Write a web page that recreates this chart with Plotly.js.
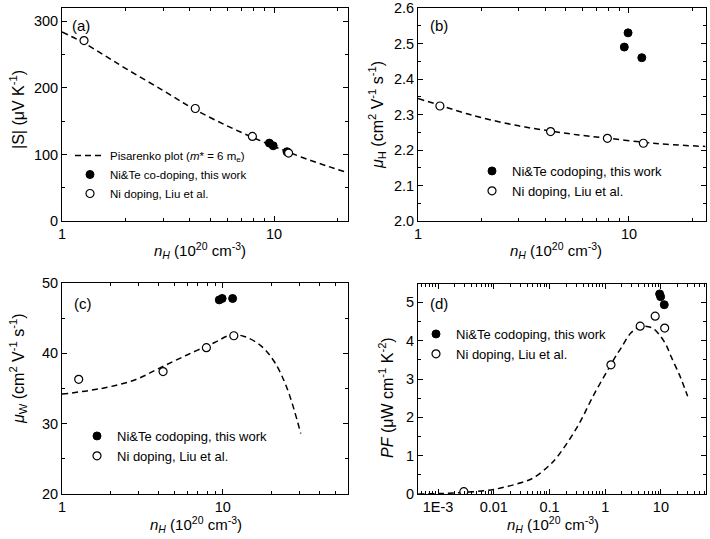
<!DOCTYPE html>
<html><head><meta charset="utf-8">
<script src="https://cdn.plot.ly/plotly-3.0.1.min.js"></script>
<style>html,body{margin:0;padding:0;background:#fff}#chart{width:710px;height:539px}</style>
</head><body><div id="chart"></div>
<script>
// ---------- data ----------
const nH_open = [1.27, 4.25, 7.9, 11.7];
const nH_filled = [9.5, 9.9, 11.5];
const nH_open_d = [0.0029, 1.27, 4.25, 7.9, 11.7];

// (a) Seebeck
const S_open = [271, 169, 127, 102];
const S_filled = [117, 113, 104];
const pis_n = [1, 1.26, 1.6, 2, 3, 4.2, 6, 8, 10, 12, 15, 18, 22];
const pis_S = [284, 268, 248, 229, 196, 168, 143, 125, 112, 102, 90.5, 82, 73];

// (b) Hall mobility
const muH_open = [2.324, 2.252, 2.233, 2.219];
const muH_filled = [2.49, 2.53, 2.46];
const muH_curve_n = [1, 1.27, 1.6, 2, 3, 4.4, 6, 8, 11.6, 15, 23];
const muH_curve = [2.345, 2.326, 2.307, 2.291, 2.268, 2.252, 2.241, 2.233, 2.222, 2.216, 2.21];

// (c) weighted mobility
const muW_open = [36.3, 37.4, 40.8, 42.5];
const muW_filled = [47.6, 47.8, 47.8];
const muW_curve_n = [1, 1.75, 2.82, 4.12, 6.03, 8.83, 11.2, 13.6, 17.2, 20.9, 25.1, 30.5];
const muW_curve = [34.2, 35.0, 36.2, 38.0, 39.8, 41.5, 42.6, 42.4, 41.1, 38.8, 35.0, 28.6];

// (d) power factor
const PF_open = [0.06, 3.37, 4.38, 4.64, 4.33];
const PF_filled = [5.22, 5.15, 4.94];
const PF_curve_n = [0.00044, 0.001, 0.0028, 0.01, 0.0316, 0.0513, 0.1, 0.138, 0.316, 0.631, 1.26, 1.55, 1.91, 2.88, 4.27, 5.62, 7.08, 9.33, 12.3, 15.1, 22.4, 30.2];
const PF_curve = [0.0, 0.01, 0.04, 0.12, 0.3, 0.42, 0.75, 0.97, 1.75, 2.6, 3.37, 3.6, 3.8, 4.2, 4.37, 4.37, 4.33, 4.16, 3.9, 3.6, 3.05, 2.55];

// tick labels
const ticksA_y = [0, 100, 200, 300];
const ticksB_y = [2.0, 2.1, 2.2, 2.3, 2.4, 2.5, 2.6];
const ticksB_ytext = ['2.0', '2.1', '2.2', '2.3', '2.4', '2.5', '2.6'];
const ticksC_y = [20, 30, 40, 50];
const ticksD_y = [0, 1, 2, 3, 4, 5];
const ticksLin_x = [1, 10];
const ticksLin_xtext = ['1', '10'];
const ticksD_x = [0.001, 0.01, 0.1, 1, 10];
const ticksD_xtext = ['1E-3', '0.01', '0.1', '1', '10'];

const legOpen = 'Ni doping, Liu et al.';
const legFilledA = 'Ni&Te co-doping, this work';
const legFilled = 'Ni&Te codoping, this work';
const legPis = 'Pisarenko plot (<i>m</i>* = 6 m<sub>e</sub>)';

// ---------- helpers ----------
const W = 710, H = 539;
const FONT = 'Liberation Sans, Arial, sans-serif';
const px = x => x / W;
const py = y => 1 - y / H;

function logMinor(dmin, dmax) {
  const v = [];
  for (let d = dmin; d <= dmax; d++) for (let k = 2; k <= 9; k++) v.push(k * Math.pow(10, d));
  return v;
}
function linMinor(a, b, step) {
  const v = [];
  for (let t = a; t <= b + 1e-9; t += step) v.push(+t.toFixed(4));
  return v;
}

const dash = {color: '#000', width: 1.5, dash: '6px,4px'};
const mFilled = {symbol: 'circle', size: 8, color: '#000', line: {color: '#000', width: 1}};
const mOpen = {symbol: 'circle', size: 8, color: '#fff', line: {color: '#000', width: 1.2}};

const traces = [
  // (a)
  {x: pis_n, y: pis_S, xaxis: 'x', yaxis: 'y', mode: 'lines', line: Object.assign({shape: 'spline'}, dash), name: legPis, legend: 'legend'},
  {x: nH_filled, y: S_filled, xaxis: 'x', yaxis: 'y', mode: 'markers', marker: mFilled, name: legFilledA, legend: 'legend'},
  {x: nH_open, y: S_open, xaxis: 'x', yaxis: 'y', mode: 'markers', marker: mOpen, name: legOpen, legend: 'legend'},
  // (b)
  {x: muH_curve_n, y: muH_curve, xaxis: 'x2', yaxis: 'y2', mode: 'lines', line: Object.assign({shape: 'spline'}, dash), showlegend: false},
  {x: nH_filled, y: muH_filled, xaxis: 'x2', yaxis: 'y2', mode: 'markers', marker: mFilled, name: legFilled, legend: 'legend2'},
  {x: nH_open, y: muH_open, xaxis: 'x2', yaxis: 'y2', mode: 'markers', marker: mOpen, name: legOpen, legend: 'legend2'},
  // (c)
  {x: muW_curve_n, y: muW_curve, xaxis: 'x3', yaxis: 'y3', mode: 'lines', line: Object.assign({shape: 'spline'}, dash), showlegend: false},
  {x: nH_filled, y: muW_filled, xaxis: 'x3', yaxis: 'y3', mode: 'markers', marker: mFilled, name: legFilled, legend: 'legend3'},
  {x: nH_open, y: muW_open, xaxis: 'x3', yaxis: 'y3', mode: 'markers', marker: mOpen, name: legOpen, legend: 'legend3'},
  // (d)
  {x: PF_curve_n, y: PF_curve, xaxis: 'x4', yaxis: 'y4', mode: 'lines', line: Object.assign({shape: 'spline'}, dash), showlegend: false},
  {x: nH_filled, y: PF_filled, xaxis: 'x4', yaxis: 'y4', mode: 'markers', marker: mFilled, name: legFilled, legend: 'legend4'},
  {x: nH_open_d, y: PF_open, xaxis: 'x4', yaxis: 'y4', mode: 'markers', marker: mOpen, name: legOpen, legend: 'legend4'}
];

function ax(extra) {
  return Object.assign({
    showline: true, linecolor: '#000', linewidth: 1, mirror: 'allticks',
    ticks: 'inside', ticklen: 5, tickwidth: 1, tickcolor: '#000',
    showgrid: false, zeroline: false, automargin: false, fixedrange: true,
    tickfont: {family: FONT, size: 14.5, color: '#000'}
  }, extra);
}
const minorStyle = {ticks: 'inside', ticklen: 3, tickwidth: 1, tickcolor: '#000', showgrid: false};

const dxL = [px(62), px(348)], dxR = [px(418), px(706)];
const dyT = [py(221), py(8)], dyB = [py(494), py(283)];

function leg(x, ytop, size) {
  return {x: px(x), y: py(ytop), xanchor: 'left', yanchor: 'top', bgcolor: 'rgba(0,0,0,0)', borderwidth: 0,
    font: {family: FONT, size: size, color: '#000'}, itemwidth: 30, tracegroupgap: 0};
}

const layout = {
  width: W, height: H, margin: {l: 0, r: 0, t: 0, b: 0},
  paper_bgcolor: '#fff', plot_bgcolor: '#fff', showlegend: true,
  font: {family: FONT, color: '#000'},
  xaxis: ax({domain: dxL, anchor: 'y', type: 'log', range: [0, Math.log10(22.3)], tickvals: ticksLin_x, ticktext: ticksLin_xtext,
    minor: Object.assign({tickvals: logMinor(0, 1)}, minorStyle)}),
  yaxis: ax({domain: dyT, anchor: 'x', range: [0, 320], tickvals: ticksA_y, minor: Object.assign({tickvals: linMinor(50, 300, 100)}, minorStyle)}),
  xaxis2: ax({domain: dxR, anchor: 'y2', type: 'log', range: [0, 1.365], tickvals: ticksLin_x, ticktext: ticksLin_xtext,
    minor: Object.assign({tickvals: logMinor(0, 1)}, minorStyle)}),
  yaxis2: ax({domain: dyT, anchor: 'x2', range: [2.0, 2.6], tickvals: ticksB_y, ticktext: ticksB_ytext, minor: Object.assign({tickvals: linMinor(2.05, 2.55, 0.1)}, minorStyle)}),
  xaxis3: ax({domain: dxL, anchor: 'y3', type: 'log', range: [0, 1.778], tickvals: ticksLin_x, ticktext: ticksLin_xtext,
    minor: Object.assign({tickvals: logMinor(0, 1)}, minorStyle)}),
  yaxis3: ax({domain: dyB, anchor: 'x3', range: [20, 50], tickvals: ticksC_y, minor: Object.assign({tickvals: linMinor(25, 45, 10)}, minorStyle)}),
  xaxis4: ax({domain: dxR, anchor: 'y4', type: 'log', range: [-3.36, 1.81], tickvals: ticksD_x, ticktext: ticksD_xtext,
    minor: Object.assign({tickvals: logMinor(-4, 1)}, minorStyle)}),
  yaxis4: ax({domain: [py(494), py(284)], anchor: 'x4', range: [0, 5.48], tickvals: ticksD_y, minor: Object.assign({tickvals: linMinor(0.5, 5, 1)}, minorStyle)}),
  legend: leg(70, 141, 11.5),
  legend2: leg(472, 156, 13),
  legend3: leg(77, 421, 13),
  legend4: leg(416, 319, 13),
  annotations: []
};

function ann(text, x, y, opts) {
  return Object.assign({text: text, xref: 'paper', yref: 'paper', x: px(x), y: py(y), showarrow: false,
    xanchor: 'center', yanchor: 'middle', font: {family: FONT, size: 15, color: '#000'}}, opts || {});
}
const xTitle = '<i>n</i><sub><i>H</i></sub> (10<sup>20</sup> cm<sup>-3</sup>)';
layout.annotations.push(
  ann('(a)', 70, 25, {xanchor: 'left'}),
  ann('(b)', 428, 26, {xanchor: 'left'}),
  ann('(c)', 72, 303, {xanchor: 'left'}),
  ann('(d)', 428, 303, {xanchor: 'left'}),
  ann(xTitle, 200, 250),
  ann(xTitle, 556, 250),
  ann(xTitle, 196, 524),
  ann(xTitle, 553, 524),
  ann('|S| (μV K<sup>-1</sup>)', 17, 110, {textangle: -90, font: {family: FONT, size: 16, color: '#000'}}),
  ann('<i>μ</i><sub>H</sub> (cm<sup>2</sup> V<sup>-1</sup> s<sup>-1</sup>)', 377, 115, {textangle: -90, font: {family: FONT, size: 16, color: '#000'}}),
  ann('<i>μ</i><sub>W</sub> (cm<sup>2</sup> V<sup>-1</sup> s<sup>-1</sup>)', 18, 369, {textangle: -90, font: {family: FONT, size: 16, color: '#000'}}),
  ann('<i>PF</i> (μW cm<sup>-1</sup> K<sup>-2</sup>)', 386, 398, {textangle: -90, font: {family: FONT, size: 16, color: '#000'}})
);

Plotly.newPlot('chart', traces, layout, {displayModeBar: false, staticPlot: true});
</script></body></html>
